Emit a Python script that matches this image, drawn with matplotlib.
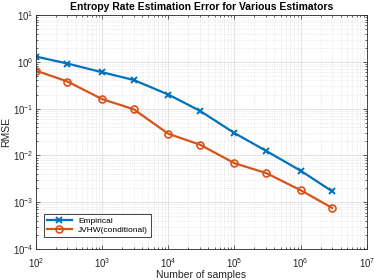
import matplotlib
matplotlib.use('Agg')
import matplotlib.pyplot as plt

plt.rcParams['font.family'] = ['Liberation Sans', 'DejaVu Sans']
plt.rcParams['mathtext.fontset'] = 'custom'
plt.rcParams['mathtext.rm'] = 'Liberation Sans'

n_samples = [1e2, 3e2, 1e3, 3e3, 1e4, 3e4, 1e5, 3e5, 1e6, 3e6]
rmse_empirical = [1.30, 0.92, 0.60, 0.41, 0.20, 0.090, 0.030, 0.0125, 0.0047, 0.0017]
rmse_jvhw = [0.65, 0.38, 0.16, 0.097, 0.029, 0.0170, 0.0068, 0.0042, 0.0018, 0.00075]
labels = ['Empirical', 'JVHW(conditional)']

blue = '#0072BD'
orange = '#D95319'

fig = plt.figure(figsize=(3.74, 2.8), dpi=100)
ax = fig.add_axes([0.096, 0.111, 0.885, 0.835])

ax.plot(n_samples, rmse_empirical, '-x', color=blue, lw=1.6, ms=4, mew=1.4, label=labels[0])
ax.plot(n_samples, rmse_jvhw, '-o', color=orange, lw=1.6, ms=5, mew=1.2,
        mfc='none', label=labels[1])

ax.set_xscale('log')
ax.set_yscale('log')
ax.set_xlim(1e2, 1e7)
ax.set_ylim(1e-4, 1e1)

ax.grid(True, which='major', color='#d9d9d9', lw=0.5, ls='-')
ax.grid(True, which='minor', color='#d9d9d9', lw=0.5, ls=':')
ax.set_axisbelow(True)

ax.tick_params(which='both', direction='in', top=True, right=True,
               labelsize=7, colors='#262626', width=0.5)
ax.tick_params(which='major', length=3)
ax.tick_params(axis='y', which='major', pad=2)
ax.tick_params(axis='x', which='major', pad=5)
ax.tick_params(which='minor', length=1.5)
for sp in ax.spines.values():
    sp.set_color('#262626')
    sp.set_linewidth(0.6)

ax.set_xlabel('Number of samples', fontsize=7.5, color='#262626', labelpad=0)
ax.set_ylabel('RMSE', fontsize=7.5, color='#262626')
ax.yaxis.set_label_coords(-0.075, 0.5)
ax.set_title('Entropy Rate Estimation Error for Various Estimators',
             fontsize=7.5, fontweight='bold', pad=4)

leg = ax.legend(loc='lower left', bbox_to_anchor=(0.012, 0.035), fontsize=6,
                fancybox=False, framealpha=1, edgecolor='#262626',
                handlelength=3, borderpad=0.3, labelspacing=0.2)
leg.get_frame().set_linewidth(0.6)

fig.savefig('out.png', dpi=100)
